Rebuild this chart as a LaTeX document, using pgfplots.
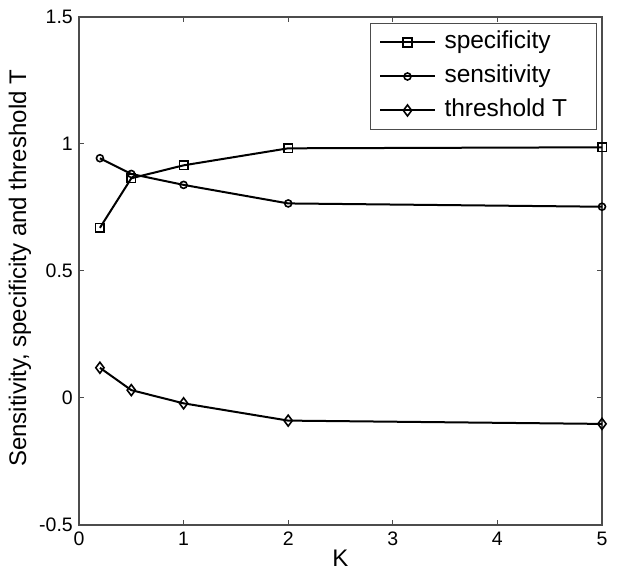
\documentclass[border=0pt]{standalone}
\usepackage{fontspec}
\setmainfont{Liberation Sans}
\usepackage{pgfplots}
\pgfplotsset{compat=1.18}
\begin{document}
\begin{tikzpicture}
\useasboundingbox (-79pt,-52pt) rectangle (541pt,525pt);
\begin{axis}[
  at={(0pt,0pt)}, anchor=south west,
  scale only axis, width=523pt, height=508pt,
  xmin=0, xmax=5, ymin=-0.5, ymax=1.5,
  xtick={0,1,2,3,4,5}, ytick={-0.5,0,0.5,1,1.5},
  /pgf/number format/assume math mode=true,
  tick align=inside, tick pos=both,
  major tick length=5pt,
  axis line style={draw=black!70, line width=1.2pt},
  every tick/.style={draw=black!70, line width=1pt},
  ticklabel style={font=\fontsize{19.5}{22}\selectfont},
  xticklabel style={inner sep=0pt, yshift=-7pt},
  yticklabel style={inner sep=0pt, xshift=-6pt},
  xlabel={K},
  ylabel={Sensitivity, specificity and threshold T},
  label style={font=\fontsize{24}{28}\selectfont},
  xlabel style={at={(axis description cs:0.5,0)}, anchor=center, yshift=-33pt},
  ylabel style={at={(axis description cs:-0.113,0.505)}, anchor=center},
  clip=false,
  legend image code/.code={\draw[#1] (0pt,0pt) -- (54pt,0pt); \draw[#1, mark repeat=1] plot coordinates {(27pt,0pt)};},
  legend cell align=left,
  legend style={at={(1,1)}, anchor=north east, xshift=-5pt, yshift=-6pt,
    draw=black!70, line width=1pt,
    font=\fontsize{24.5}{28}\selectfont,
    inner xsep=9pt, inner ysep=8pt,
    nodes={inner sep=0pt, text height=17pt, text depth=5pt},
    row sep=12pt, column sep=9pt},
  myline/.style={draw=black, line width=2pt, mark options={draw=black, fill=white, line width=1.6pt, solid}},
]
\addplot[myline, mark=square, mark size=4.3pt] coordinates {(0.2,0.670) (0.5,0.865) (1,0.916) (2,0.983) (5,0.987)};
\addlegendentry{\makebox[143pt][l]{specificity}}
\addplot[myline, mark=o, mark size=3.5pt] coordinates {(0.2,0.944) (0.5,0.882) (1,0.839) (2,0.766) (5,0.753)};
\addlegendentry{sensitivity}
\addplot[myline, mark=diamond, mark size=5.5pt] coordinates {(0.2,0.119) (0.5,0.031) (1,-0.021) (2,-0.089) (5,-0.102)};
\addlegendentry{threshold T}
\end{axis}
\end{tikzpicture}
\end{document}
